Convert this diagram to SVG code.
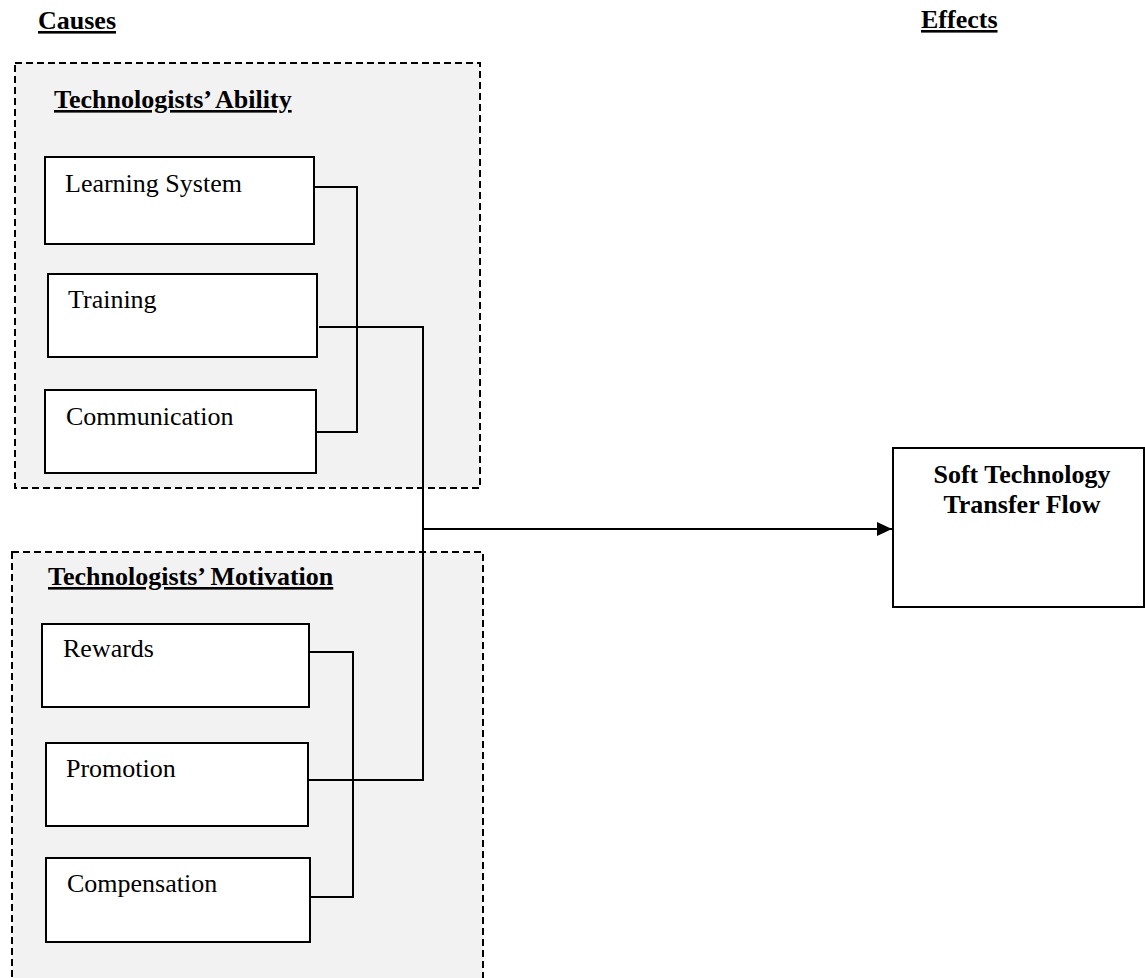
<svg xmlns="http://www.w3.org/2000/svg" width="1145" height="978" viewBox="0 0 1145 978">
<defs>
<style>
.grp{fill:#f2f2f2;stroke:#000;stroke-width:2;stroke-dasharray:7 4}
.box{fill:#fff;stroke:#000;stroke-width:2}
.lbl{font-family:"Liberation Serif","Times New Roman",serif;font-size:26px;fill:#000}
.hd{font-family:"Liberation Serif","Times New Roman",serif;font-size:26px;font-weight:bold;fill:#000;text-decoration:underline}
.bold{font-family:"Liberation Serif","Times New Roman",serif;font-size:26px;font-weight:bold;fill:#000}
.con{fill:none;stroke:#000;stroke-width:2}
</style>
<marker id="arr" viewBox="0 0 15 14" refX="15" refY="7" markerWidth="15" markerHeight="14" markerUnits="userSpaceOnUse" orient="auto">
<path d="M0 0 L15 7 L0 14 Z" fill="#000"/>
</marker>
</defs>
<rect width="1145" height="978" fill="#fff"/>
<text class="hd" x="38" y="29">Causes</text>
<text class="hd" x="921" y="28">Effects</text>
<g id="ability-group">
<rect class="grp" x="15" y="63" width="465" height="425"/>
<text class="hd" x="54" y="108">Technologists’ Ability</text>
</g>
<g id="motivation-group">
<rect class="grp" x="12" y="552" width="471" height="440"/>
<text class="hd" x="48" y="585">Technologists’ Motivation</text>
</g>
<g id="connectors">
<path class="con" d="M314 187 H357 V432 H316"/>
<path class="con" d="M319 327 H423 V780 H307"/>
<path class="con" d="M309 652 H353 V897 H310"/>
<path class="con" d="M423 529 H892" marker-end="url(#arr)"/>
</g>
<g id="learning-system">
<rect class="box" x="45" y="157" width="269" height="87"/>
<text class="lbl" x="65" y="192">Learning System</text>
</g>
<g id="training">
<rect class="box" x="48" y="274" width="269" height="83"/>
<text class="lbl" x="68" y="308">Training</text>
</g>
<g id="communication">
<rect class="box" x="45" y="390" width="271" height="83"/>
<text class="lbl" x="66" y="425">Communication</text>
</g>
<g id="rewards">
<rect class="box" x="42" y="624" width="267" height="83"/>
<text class="lbl" x="63" y="657">Rewards</text>
</g>
<g id="promotion">
<rect class="box" x="46" y="743" width="262" height="83"/>
<text class="lbl" x="66" y="777">Promotion</text>
</g>
<g id="compensation">
<rect class="box" x="46" y="858" width="264" height="84"/>
<text class="lbl" x="67" y="892">Compensation</text>
</g>
<g id="soft-technology-transfer-flow">
<rect class="box" x="893" y="448" width="251" height="159"/>
<text class="bold" x="1022" y="483" text-anchor="middle">Soft Technology</text>
<text class="bold" x="1022" y="513" text-anchor="middle">Transfer Flow</text>
</g>
</svg>
